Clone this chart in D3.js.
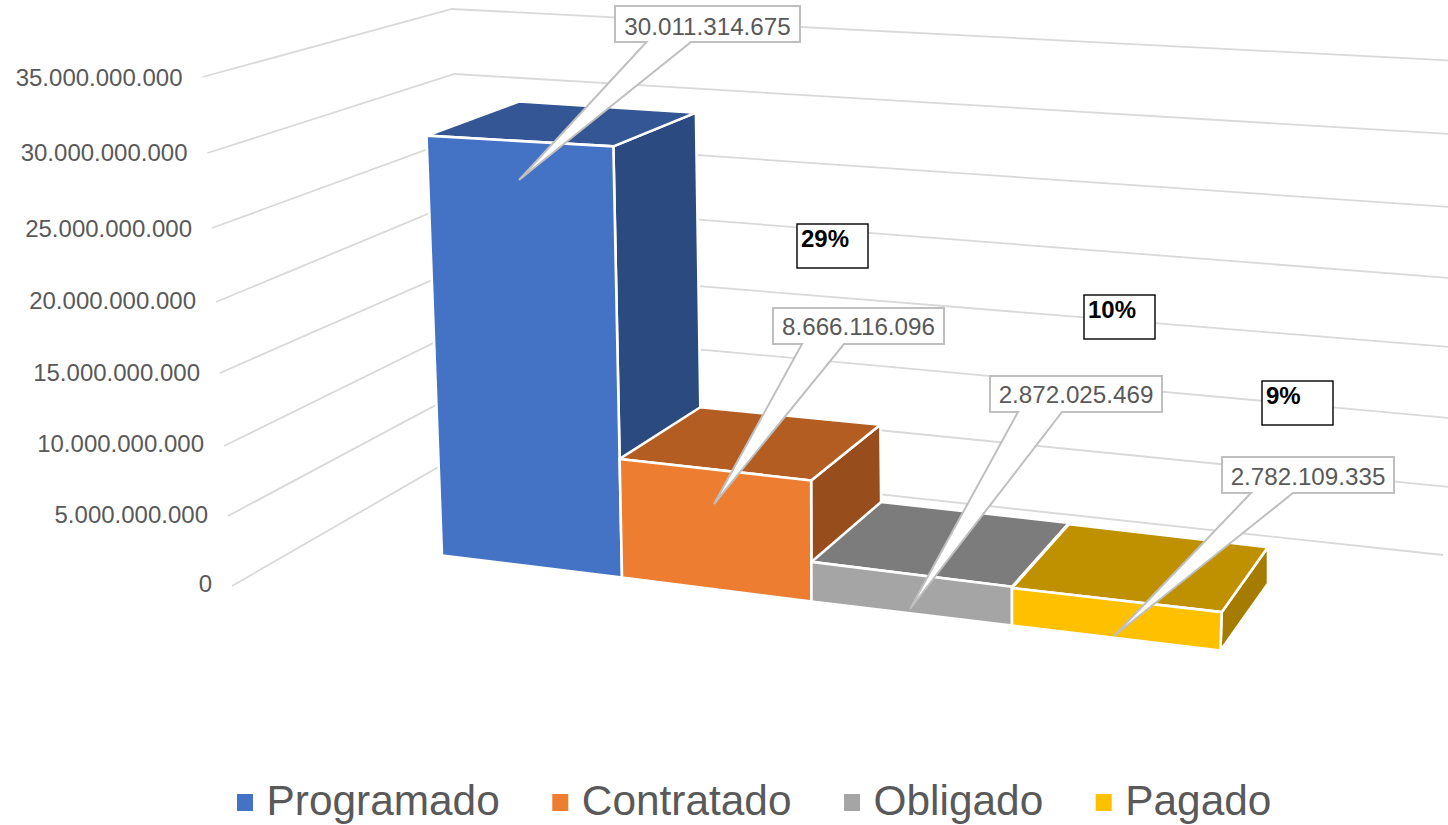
<!DOCTYPE html>
<html lang="es">
<head>
<meta charset="utf-8">
<script src="https://cdn.jsdelivr.net/npm/d3@7"></script>
<style>
html,body{margin:0;padding:0;background:#fff;overflow:hidden}
svg{display:block;font-family:"Liberation Sans",Arial,sans-serif}
</style>
</head>
<body>
<svg id="chart" width="1448" height="825"></svg>
<script>
// ---- data ----
const categories = ["Programado", "Contratado", "Obligado", "Pagado"];
const values = [30011314675, 8666116096, 2872025469, 2782109335];
const percentLabels = ["29%", "10%", "9%"];
const yTicks = [0, 5e9, 10e9, 15e9, 20e9, 25e9, 30e9, 35e9];

const frontColors = ["#4472C4", "#ED7D31", "#A5A5A5", "#FFC000"];
const topColors = ["#345694", "#B35D22", "#7C7C7C", "#BF9000"];
const sideColors = ["#2B4A80", "#984D1C", "#646464", "#A57C00"];

// ---- projection of the 3-D frame (fitted to the picture) ----
const slots = [0, 1, 2, 3, 4];
const frontX = d3.scaleLinear().domain(slots).range([442, 622, 811.5, 1012, 1220.5]);
const frontY = d3.scaleLinear().domain(slots).range([555.5, 577.5, 601.5, 625.5, 650.5]);
const backX = d3.scaleLinear().domain(slots).range([527, 702, 881.5, 1069, 1268]);
const backY = d3.scaleLinear().domain(slots).range([505, 519, 539.5, 560.5, 583.5]);
const frontK = d3.scaleLinear().domain(slots).range([13.07, 13.42, 13.7, 13.4, 13.7]);
const backK = d3.scaleLinear().domain(slots).range([12.56, 12.65, 13, 13, 13]);
const frontLean = d3.scaleLinear().domain(slots).range([-0.037, -0.02, -0.003, 0, 0.03]);
const backLean = d3.scaleLinear().domain(slots).range([-0.02, -0.015, -0.01, 0, 0]);
const foreshorten = 0.00219;

function rise(k, v) {
  const b = v / 1e9;
  return k * b / (1 - foreshorten * b);
}
function project(slot, v, back) {
  const h = rise((back ? backK : frontK)(slot), v);
  const x = (back ? backX : frontX)(slot) + h * (back ? backLean : frontLean)(slot);
  const y = (back ? backY : frontY)(slot) - h;
  return [x, y];
}

// ---- gridline anchors per tick ----
const leftX = d3.scaleLinear().domain(yTicks).range([232, 228, 224, 220, 216, 212, 207.5, 202.5]);
const leftY = d3.scaleLinear().domain(yTicks).range([586, 516, 446, 373, 302, 228, 153, 77]);
const labelY = d3.scaleLinear().domain(yTicks).range([592, 523, 452, 381, 309, 237, 161, 86]);
const cornerX = d3.scaleLinear().domain(yTicks).range([468, 466, 464, 462, 459, 457, 454.5, 452]);
const cornerY = d3.scaleLinear().domain(yTicks).range([450, 389, 328, 267, 201, 138.5, 74, 9]);
const rightX = d3.scaleLinear().domain(yTicks).range([1443, 1450, 1450, 1450, 1450, 1450, 1450, 1450]);
const rightY = d3.scaleLinear().domain(yTicks).range([555, 487, 418, 347, 278, 207, 134, 60.5]);

const esLocale = d3.formatLocale({decimal: ",", thousands: ".", grouping: [3], currency: ["$", ""]});
const fmt = esLocale.format(",d");

const svg = d3.select("#chart");
const textColor = "#595959";
const line = d3.line();

// gridlines
svg.append("g").selectAll("path").data(yTicks).join("path")
  .attr("d", t => line([[leftX(t), leftY(t)], [cornerX(t), cornerY(t)], [rightX(t), rightY(t)]]))
  .attr("fill", "none").attr("stroke", "#D9D9D9").attr("stroke-width", 1.8);

// tick labels
svg.append("g").selectAll("text").data(yTicks).join("text")
  .attr("x", t => leftX(t) - 20)
  .attr("y", t => labelY(t))
  .attr("text-anchor", "end").attr("font-size", 24).attr("fill", textColor)
  .text(t => fmt(t));

// bars, left to right so each one covers what lies behind it
const bars = svg.append("g").attr("stroke", "#fff").attr("stroke-width", 2.6).attr("stroke-linejoin", "round");
categories.forEach((c, i) => {
  const v = values[i];
  const a = i, b = i + 1;
  const g = bars.append("g");
  const poly = pts => line(pts) + "Z";
  g.append("path").attr("fill", sideColors[i])
    .attr("d", poly([project(b, 0, 0), project(b, 0, 1), project(b, v, 1), project(b, v, 0)]));
  g.append("path").attr("fill", topColors[i])
    .attr("d", poly([project(a, v, 0), project(a, v, 1), project(b, v, 1), project(b, v, 0)]));
  g.append("path").attr("fill", frontColors[i])
    .attr("d", poly([project(a, 0, 0), project(b, 0, 0), project(b, v, 0), project(a, v, 0)]));
});

// callouts: box corners, wedge base and tip
const callouts = [
  {box: [615, 6, 800, 42], base: [646.5, 691], tip: [519, 180], dy: 28.5},
  {box: [773, 308, 944, 344], base: [802, 844], tip: [714, 504], dy: 27},
  {box: [990, 376, 1162, 412], base: [1018, 1062], tip: [910, 609], dy: 27},
  {box: [1222, 457, 1394, 493], base: [1251, 1293], tip: [1114, 636], dy: 27.5}
];
const callG = svg.append("g");
values.forEach((v, i) => {
  const c = callouts[i], [x0, y0, x1, y1] = c.box;
  callG.append("path")
    .attr("d", line([[x0, y0], [x1, y0], [x1, y1], [c.base[1], y1], c.tip, [c.base[0], y1], [x0, y1]]) + "Z")
    .attr("fill", "#fff").attr("stroke", "#BFBFBF").attr("stroke-width", 2).attr("stroke-linejoin", "miter");
  callG.append("text")
    .attr("x", (x0 + x1) / 2).attr("y", y0 + c.dy)
    .attr("text-anchor", "middle").attr("font-size", 24.2).attr("fill", textColor)
    .text(fmt(v));
});

// percentage boxes
const percentBoxes = [[797, 224, 868, 268], [1084, 295, 1155, 339], [1262, 381, 1333, 425]];
const pctG = svg.append("g");
percentLabels.forEach((p, i) => {
  const [x0, y0, x1, y1] = percentBoxes[i];
  pctG.append("rect").attr("x", x0).attr("y", y0).attr("width", x1 - x0).attr("height", y1 - y0)
    .attr("fill", "#fff").attr("stroke", "#000").attr("stroke-width", 1.4);
  pctG.append("text").attr("x", x0 + 4).attr("y", y0 + 23)
    .attr("font-size", 24).attr("font-weight", "bold").attr("fill", "#000").text(p);
});

// legend
const legend = svg.append("g");
let lx = 237;
categories.forEach((c, i) => {
  legend.append("rect").attr("x", lx).attr("y", 794).attr("width", 16).attr("height", 17).attr("fill", frontColors[i]);
  const t = legend.append("text").attr("x", lx + 29.5).attr("y", 815)
    .attr("font-size", 42.4).attr("fill", textColor).text(c);
  lx += 29.5 + t.node().getComputedTextLength() + 52.5;
});
</script>
</body>
</html>
